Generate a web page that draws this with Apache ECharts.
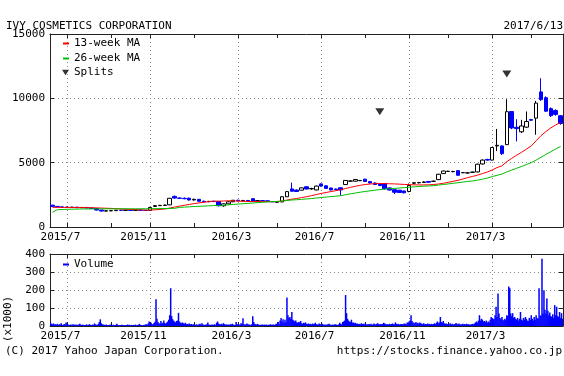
<!DOCTYPE html>
<html><head><meta charset="utf-8">
<script src="https://cdn.jsdelivr.net/npm/echarts@6/dist/echarts.min.js"></script>
<style>html,body{margin:0;padding:0;background:#fff}#c{width:564px;height:376px}</style>
</head><body><div id="c"></div>
<script>
// ---------- data ----------
const titleText = 'IVY COSMETICS CORPORATION';
const dateText = '2017/6/13';
const firstWeek = [2015, 6, 15];   // Monday of first weekly candle
const weekCount = 105;
const labelMonths = [3, 7, 11];
const tickMonths = [1, 3, 5, 7, 9, 11];
const priceTicks = [0, 5000, 10000, 15000];
const volumeTicks = [0, 100, 200, 300, 400];

const openV = [
1700,1600,1560,1540,1520,1540,1500,1520,1480,1440,
1320,1240,1260,1270,1300,1290,1310,1290,1320,1300,
1290,1600,1660,1680,1720,2380,2250,2230,2240,2100,
2150,2000,1970,1990,1980,1650,1800,1960,2080,2040,
2060,2200,2010,2050,2040,1980,1920,1950,2350,2960,
2870,2860,3130,2960,2880,3350,3200,3030,2950,3050,
3300,3560,3560,3600,3720,3530,3420,3340,3370,3040,
2900,2860,2800,2760,3400,3430,3460,3540,3550,3680,
4150,4320,4300,4380,4220,4200,4250,4280,4900,5250,
5200,6300,6300,6400,8970,7750,7400,7760,8350,8460,
10500,10050,9200,9050,8650];
const closeV = [
1600,1560,1540,1520,1540,1500,1520,1480,1440,1320,
1240,1260,1270,1300,1290,1310,1290,1320,1300,1280,
1520,1660,1680,1700,2230,2250,2230,2200,2100,2150,
2000,1970,1990,1980,1650,1800,1960,2080,2040,2060,
2020,2010,2050,2040,1980,1960,1950,2350,2750,2780,
2760,3040,2950,2990,3180,3180,3000,2880,2900,2880,
3620,3580,3690,3620,3540,3420,3300,3220,2980,2870,
2700,2680,2660,3230,3440,3460,3500,3480,3560,4100,
4350,4330,4320,4020,4230,4210,4270,4880,5200,5200,
6180,6350,5700,8960,7700,7650,7850,8200,8300,9630,
9900,9000,8650,8750,8050];
const lowV = [
1580,1540,1500,1480,1490,1480,1470,1460,1400,1280,
1200,1200,1230,1250,1260,1270,1260,1270,1270,1250,
1270,1560,1630,1650,1700,2200,2180,2150,2050,2060,
1960,1930,1920,1940,1600,1580,1760,1930,2000,2000,
1980,1980,1980,2000,1950,1930,1880,1930,2330,2750,
2720,2830,2920,2900,2850,3150,2960,2850,2850,2440,
3280,3520,3540,3570,3500,3380,3270,3180,2900,2840,
2560,2650,2600,2700,3350,3400,3420,3450,3500,3650,
4120,4280,4260,3990,4180,4160,4220,4250,4850,5150,
5180,5900,5600,6380,7600,6650,7300,7700,8250,7170,
9800,8950,8550,8650,7950];
const highV = [
1720,1630,1600,1580,1570,1560,1550,1540,1500,1460,
1340,1290,1300,1320,1330,1340,1330,1350,1340,1320,
1560,1700,1720,1740,2260,2450,2300,2290,2280,2200,
2170,2050,2030,2040,2000,1830,1990,2100,2120,2110,
2100,2230,2080,2090,2060,2010,1990,2380,2790,3450,
2920,3070,3160,3050,3220,3380,3230,3060,2990,3080,
3650,3620,3720,3650,3740,3560,3460,3360,3400,3060,
2920,2880,2830,3380,3480,3500,3540,3560,3600,4130,
4380,4370,4360,4400,4270,4260,4300,4920,5250,5300,
6220,7620,6350,9930,9000,8380,8330,8980,8400,9800,
11560,10150,9300,9150,8700];
const ma13 = [
1530,1528,1526,1524,1522,1519,1515,1508,1498,1486,1472,1458,1445,
1422,1402,1384,1366,1349,1334,1315,1318,1335,1363,1398,1473,1548,
1620,1690,1751,1817,1869,1921,1975,2011,2010,2019,2039,2028,2012,
1998,1985,1978,1970,1973,1974,1972,1969,2023,2096,2159,2212,2288,
2357,2432,2522,2608,2682,2752,2824,2895,2993,3080,3160,3240,
3300,3340,3370,3380,3370,3360,3350,3330,3310,3290,3280,3270,3270,3280,3300,
3340,3400,3470,3550,3630,3730,3840,3930,4030,4150,4270,4430,4620,
4750,5080,5330,5580,5800,6050,6300,6700,7100,7420,7700,7930,8130];
const ma26 = [
1150,1340,1360,1375,1385,1392,1398,1402,1405,1408,1410,1410,1412,
1413,1414,1415,1416,1417,1418,1418,1420,1425,1430,1436,1442,1448,
1521,1546,1567,1592,1609,1627,1645,1665,1673,1691,
1719,1750,1780,1809,1837,1864,1893,1921,1947,1973,
1990,2017,2058,2099,2120,2150,2178,2208,2250,2289,
2328,2363,2398,2432,2508,2577,2643,2702,2760,2812,
2862,2908,2944,2976,3003,3031,3058,3092,3119,3145,
3173,3190,3214,3257,3302,3346,3397,3440,3492,3543,
3580,3640,3720,3800,3920,4020,4110,4280,4420,4560,
4700,4850,5000,5200,5420,5640,5850,6060,6260];
const splitDates = ['2016/9/26', '2017/3/27'];
const splitLevels = [8950, 11900];
// daily volume (x1000 shares), five trading days per week
const volume = [
18,12,9,14,8, 10,7,12,6,9, 8,15,6,7,11, 9,20,12,8,6, 7,9,5,10,8,
6,8,7,5,9, 12,7,6,8,5, 5,6,9,4,7, 10,6,5,8,6, 14,9,7,6,12,
22,37,15,9,8, 7,6,9,5,6, 5,8,6,4,7, 6,5,7,12,5, 4,6,5,7,5,
6,4,5,6,8, 5,7,4,6,5, 6,5,8,4,5, 7,12,6,5,4, 6,5,8,10,7,
14,25,12,18,9, 11,16,24,148,40, 22,15,12,28,14, 18,30,16,12,20, 25,35,60,210,55,
38,30,24,20,28, 30,73,25,18,15, 20,15,12,18,10, 12,9,14,8,11, 7,10,8,6,9,
8,6,10,12,7, 15,9,7,6,8, 9,20,8,6,7, 7,8,6,10,5, 18,25,14,10,9,
12,8,16,10,7, 9,7,8,6,10, 8,12,9,6,7, 22,10,8,7,9, 15,12,43,10,8,
9,14,10,8,7, 6,10,54,22,12, 9,8,12,7,6, 7,6,9,5,8, 6,8,5,7,6,
10,7,6,9,5, 8,12,9,22,10, 30,45,25,38,20, 35,22,159,60,45, 50,40,78,35,30,
25,30,20,18,22, 20,28,15,12,18, 15,20,12,10,14, 10,12,8,14,9, 12,18,10,8,9,
14,10,9,12,8, 7,9,6,8,10, 12,8,7,6,9, 6,10,8,7,5, 9,18,12,8,22,
25,30,172,71,40, 30,25,22,35,18, 20,15,18,12,14, 10,12,9,15,11, 12,9,14,8,10,
9,11,8,12,7, 8,14,10,9,12, 15,10,8,11,9, 12,18,14,10,9, 10,8,12,9,11,
14,10,9,20,12, 9,12,8,10,11, 10,9,14,12,8, 20,18,25,30,60, 28,20,18,15,22,
14,18,12,20,15, 12,10,15,9,11, 10,14,9,12,8, 12,9,11,15,10, 18,25,15,20,50,
22,18,28,15,12, 14,10,12,9,15, 9,12,8,10,11, 16,12,10,14,9, 10,8,12,9,11,
9,12,8,10,7, 8,10,12,9,14, 20,25,18,30,60, 30,40,35,25,28, 22,30,18,25,20,
35,50,45,40,38, 60,107,50,181,70, 45,38,50,35,30, 40,35,60,55,219, 210,70,55,71,45,
50,40,35,45,30, 40,78,35,30,45, 35,50,40,30,28, 45,35,60,40,30, 50,35,60,45,40,
210,55,60,374,70, 199,90,70,153,85, 60,75,55,50,65, 45,116,60,107,55, 50,78,45,71,40];

// ---------- categories ----------
function ymd(d){ return d.getUTCFullYear() + '/' + (d.getUTCMonth()+1) + '/' + d.getUTCDate(); }
const t0 = Date.UTC(firstWeek[0], firstWeek[1]-1, firstWeek[2]);
const weeks = [], days = [];
for (let i = 0; i < weekCount; i++) {
  weeks.push(ymd(new Date(t0 + i*7*864e5)));
  for (let j = 0; j < 5; j++) days.push(ymd(new Date(t0 + (i*7+j)*864e5)));
}
[openV, closeV, lowV, highV, ma13, ma26].forEach((a, i) => { if (a.length !== weekCount) throw new Error('array ' + i + ' length ' + a.length); });
if (volume.length !== days.length) throw new Error('volume length ' + volume.length);

function parts(v){ const p = String(v).split('/'); return {y:+p[0], m:+p[1], d:+p[2]}; }
const isLabel = (i, v) => { const p = parts(v); return p.d <= 7 && labelMonths.indexOf(p.m) >= 0; };
const isTick = (i, v) => { const p = parts(v); return p.d <= 7 && tickMonths.indexOf(p.m) >= 0; };
const isLabelS = (i, v) => isLabel(i, v);
const fmtLabel = (v) => { const p = parts(v); return p.y + '/' + p.m + '  '; };

// ---------- styles ----------
const FONT = 'DejaVu Sans Mono';
const txt = {fontFamily: FONT, fontSize: 11, color: '#000'};
const axisColor = '#222';
const gridDot = {color: '#888', type: [1, 3], width: 1};

function weekAxis(gridIndex, pos, main) {
  return {
    type: 'category', gridIndex, position: pos, data: weeks, boundaryGap: true,
    axisLine: {show: true, onZero: false, lineStyle: {color: axisColor, width: 1}},
    axisTick: {show: true, inside: true, length: 4, alignWithLabel: true, interval: isTick, lineStyle: {color: axisColor}},
    axisLabel: main ? Object.assign({show: true, interval: isLabel, formatter: fmtLabel, margin: 5}, txt) : {show: false},
    splitLine: main ? {show: true, alignWithLabel: true, interval: isLabelS, lineStyle: gridDot} : {show: false}
  };
}
function valAxis(gridIndex, pos, max, interval, main) {
  return {
    type: 'value', gridIndex, position: pos, min: 0, max, interval,
    axisLine: {show: true, onZero: false, lineStyle: {color: axisColor, width: 1}},
    axisTick: {show: true, inside: true, length: 4, lineStyle: {color: axisColor}},
    axisLabel: main ? Object.assign({show: true, margin: 5, formatter: (v) => String(v)}, txt) : {show: false},
    splitLine: main ? {show: true, showMinLine: false, showMaxLine: false, lineStyle: gridDot} : {show: false}
  };
}

const tri = 'path://M0,0L10,0L5,8Z';
const chart = echarts.init(document.getElementById('c'), null, {renderer: 'canvas', width: 564, height: 376});
chart.setOption({
  animation: false,
  backgroundColor: '#fff',
  grid: [
    {left: 50, top: 34, width: 513, height: 193, outerBoundsMode: 'none', containLabel: false},
    {left: 50, top: 254, width: 513, height: 72, outerBoundsMode: 'none', containLabel: false}
  ],
  xAxis: [
    weekAxis(0, 'bottom', true),
    weekAxis(0, 'top', false),
    weekAxis(1, 'bottom', true),
    weekAxis(1, 'top', false),
    {type: 'category', gridIndex: 1, data: days, boundaryGap: true, show: false}
  ],
  yAxis: [
    valAxis(0, 'left', priceTicks[priceTicks.length-1], priceTicks[1], true),
    valAxis(0, 'right', priceTicks[priceTicks.length-1], priceTicks[1], false),
    valAxis(1, 'left', volumeTicks[volumeTicks.length-1], volumeTicks[1], true),
    valAxis(1, 'right', volumeTicks[volumeTicks.length-1], volumeTicks[1], false)
  ],
  legend: [
    {data: [{name: '13-week MA', icon: 'rect'}, {name: '26-week MA', icon: 'rect'}], orient: 'vertical',
     left: 63, top: 38, itemWidth: 6, itemHeight: 2, itemGap: 4, padding: 0, selectedMode: false, textStyle: txt},
    {data: [{name: 'Splits', icon: tri}], orient: 'vertical', left: 62, top: 67, itemWidth: 7, itemHeight: 6,
     padding: 0, selectedMode: false, textStyle: txt},
    {data: [{name: 'Volume', icon: 'rect'}], orient: 'vertical', left: 63, top: 259, itemWidth: 6, itemHeight: 2,
     padding: 0, selectedMode: false, textStyle: txt}
  ],
  graphic: [
    {type: 'text', x: 6, y: 26, style: {text: titleText, font: '11px "DejaVu Sans Mono"', fill: '#000', align: 'left', textAlign: 'left', verticalAlign: 'middle', textVerticalAlign: 'middle'}},
    {type: 'text', x: 563, y: 26, style: {text: dateText, font: '11px "DejaVu Sans Mono"', fill: '#000', align: 'right', textAlign: 'right', verticalAlign: 'middle', textVerticalAlign: 'middle'}},
    {type: 'text', x: 5, y: 351, style: {text: '(C) 2017 Yahoo Japan Corporation.', font: '11px "DejaVu Sans Mono"', fill: '#000', align: 'left', textAlign: 'left', verticalAlign: 'middle', textVerticalAlign: 'middle'}},
    {type: 'text', x: 562, y: 351, style: {text: 'https://stocks.finance.yahoo.co.jp', font: '11px "DejaVu Sans Mono"', fill: '#000', align: 'right', textAlign: 'right', verticalAlign: 'middle', textVerticalAlign: 'middle'}},
    {type: 'text', x: 8, y: 319, rotation: Math.PI/2, style: {text: '(x1000)', font: '11px "DejaVu Sans Mono"', fill: '#000', align: 'center', textAlign: 'center', verticalAlign: 'middle', textVerticalAlign: 'middle'}}
  ],
  series: [
    {type: 'candlestick', name: 'Price', xAxisIndex: 0, yAxisIndex: 0, barWidth: 4,
     data: weeks.map((w, i) => [openV[i], closeV[i], lowV[i], highV[i]]),
     itemStyle: {color: '#ffffff', color0: '#0000ff', borderColor: '#000000', borderColor0: '#0000ff', borderColorDoji: '#000000', borderWidth: 1}},
    {type: 'line', name: '13-week MA', xAxisIndex: 0, yAxisIndex: 0, data: ma13, symbol: 'none', showSymbol: false,
     lineStyle: {color: '#ff0000', width: 1}, itemStyle: {color: '#ff0000'}},
    {type: 'line', name: '26-week MA', xAxisIndex: 0, yAxisIndex: 0, data: ma26, symbol: 'none', showSymbol: false,
     lineStyle: {color: '#00c000', width: 1}, itemStyle: {color: '#00c000'}},
    {type: 'scatter', name: 'Splits', xAxisIndex: 0, yAxisIndex: 0, symbol: tri, symbolSize: [9, 7], symbolKeepAspect: false,
     data: splitDates.map((d, i) => [d, splitLevels[i]]), itemStyle: {color: '#000'}},
    {type: 'bar', name: 'Volume', xAxisIndex: 4, yAxisIndex: 2, data: volume, barWidth: 1.5, itemStyle: {color: '#0000ff'}}
  ]
});
</script></body></html>
